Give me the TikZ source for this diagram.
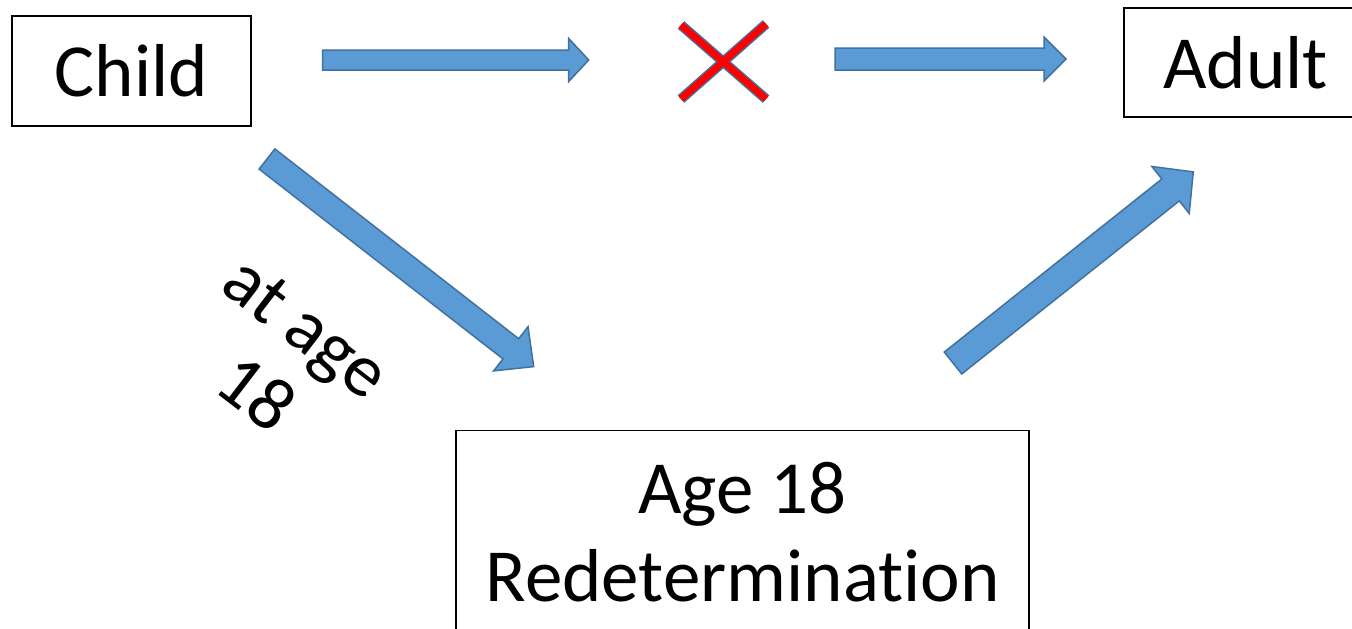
\documentclass[tikz,border=0pt]{standalone}
\usepackage{fontspec}
\setmainfont[Ligatures=NoCommon]{Carlito}
\definecolor{arrowfill}{HTML}{5B9BD5}
\definecolor{arrowline}{HTML}{41719C}
\tikzset{
  box/.style={draw=black, line width=1.3pt, inner sep=0pt},
  lbl/.style={inner sep=0pt, font=\fontsize{75}{88}\selectfont},
  barrow/.style={fill=arrowfill, draw=arrowline, line width=1.5pt, line join=miter},
  crossedge/.style={draw=arrowline, line width=10pt},
  crossfill/.style={draw=red, line width=7pt},
}
% x, y, page angle, length, shaft half width, head half width, head length
\newcommand\blockarrow[7]{%
  \begin{scope}[shift={(#1,#2)}, rotate=#3]
    \draw[barrow] (0,-#5) -- ({#4-#7},-#5) -- ({#4-#7},-#6) -- (#4,0)
      -- ({#4-#7},#6) -- ({#4-#7},#5) -- (0,#5) -- cycle;
  \end{scope}}
\begin{document}
\begin{tikzpicture}[x=1pt,y=-1pt]
\useasboundingbox (0,0) rectangle (1352,629);
% boxes
\node[box, lbl, minimum width=239pt, minimum height=110pt] (child) at (131.5,71) {Child};
\node[box, lbl, minimum width=243pt, minimum height=109pt] (adult) at (1245.5,62.5) {Adult};
\node[box, minimum width=573pt, minimum height=240pt, anchor=north] (redetbox) at (742.5,430) {};
\node[lbl, align=center] (redet) at (742.5,532) {Age 18\\Redetermination};
\node[lbl, align=center, rotate=-37.5, font=\fontsize{75}{84}\selectfont] (atage) at (281,361) {at age\\18};
% arrows
\blockarrow{322.7}{60}{0}{266}{10}{21.5}{20}
\blockarrow{835}{59}{0}{231}{11}{22}{22}
\blockarrow{267}{159}{-37.9}{338}{12.8}{28}{29}
\blockarrow{953}{363}{38.5}{307}{14}{30}{29}
% cross
\coordinate (xa) at (681,25);
\coordinate (xb) at (766,99);
\coordinate (xc) at (766,24);
\coordinate (xd) at (681,99);
\draw[crossedge] (xa) -- (xb);
\draw[crossedge] (xc) -- (xd);
\draw[crossfill] (xa) -- (xb);
\draw[crossfill] (xc) -- (xd);
\end{tikzpicture}
\end{document}
